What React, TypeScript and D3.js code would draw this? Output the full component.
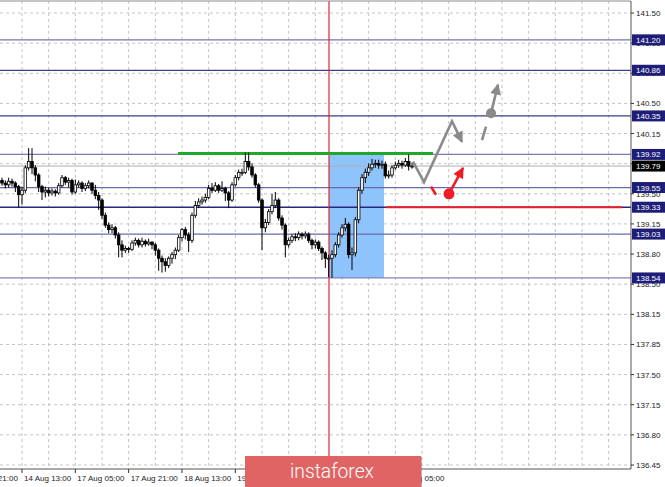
import React from "react";
import * as d3 from "d3";

// ---------- data ----------
const OPENS = [
  139.63, 139.60, 139.58, 139.62, 139.60, 139.56, 139.47, 139.52, 139.77, 139.84,
  139.77, 139.69, 139.56, 139.50, 139.52, 139.49, 139.51, 139.49, 139.57, 139.66,
  139.61, 139.63, 139.50, 139.58, 139.60, 139.54, 139.57, 139.60, 139.52, 139.46,
  139.41, 139.24, 139.13, 139.08, 139.10, 139.02, 138.91, 138.85, 138.87, 138.86,
  138.93, 138.96, 138.91, 138.95, 138.92, 138.94, 138.91, 138.85, 138.76, 138.72,
  138.68, 138.76, 138.80, 138.85, 138.99, 139.08, 139.02, 138.96, 139.24, 139.35,
  139.39, 139.41, 139.44, 139.54, 139.52, 139.57, 139.52, 139.54, 139.49, 139.41,
  139.58, 139.66, 139.72, 139.72, 139.84, 139.78, 139.69, 139.58, 139.41, 139.10,
  139.16, 139.28, 139.35, 139.41, 139.21, 139.13, 138.91, 138.96, 139.00, 138.99,
  139.03, 139.01, 139.03, 138.96, 138.91, 138.94, 138.87, 138.82, 138.76, 138.76,
  138.80, 138.91, 139.02, 139.10, 139.14, 138.80, 138.82, 139.19, 139.52, 139.66,
  139.72, 139.77, 139.81, 139.82, 139.80, 139.81, 139.68, 139.69, 139.77, 139.80,
  139.82, 139.80, 139.84, 139.79,
];
const CLOSES = [
  139.60, 139.58, 139.62, 139.60, 139.56, 139.47, 139.52, 139.77, 139.84, 139.77,
  139.69, 139.56, 139.50, 139.52, 139.49, 139.51, 139.49, 139.57, 139.66, 139.61,
  139.63, 139.50, 139.58, 139.60, 139.54, 139.57, 139.60, 139.52, 139.46, 139.41,
  139.24, 139.13, 139.08, 139.10, 139.02, 138.91, 138.85, 138.87, 138.86, 138.93,
  138.96, 138.91, 138.95, 138.92, 138.94, 138.91, 138.85, 138.76, 138.72, 138.68,
  138.76, 138.80, 138.85, 138.99, 139.08, 139.02, 138.96, 139.24, 139.35, 139.39,
  139.41, 139.44, 139.54, 139.52, 139.57, 139.52, 139.54, 139.49, 139.41, 139.58,
  139.66, 139.72, 139.72, 139.84, 139.78, 139.69, 139.58, 139.41, 139.10, 139.16,
  139.28, 139.35, 139.41, 139.21, 139.13, 138.91, 138.96, 139.00, 138.99, 139.03,
  139.01, 139.03, 138.96, 138.91, 138.94, 138.87, 138.82, 138.76, 138.76, 138.80,
  138.91, 139.02, 139.10, 139.14, 138.80, 138.82, 139.19, 139.52, 139.66, 139.72,
  139.77, 139.81, 139.82, 139.80, 139.81, 139.68, 139.69, 139.77, 139.80, 139.82,
  139.80, 139.84, 139.79, 139.79,
];
const HIGHS = [
  139.66, 139.63, 139.66, 139.65, 139.62, 139.58, 139.56, 139.80, 139.99, 139.99,
  139.80, 139.71, 139.58, 139.56, 139.55, 139.54, 139.53, 139.60, 139.69, 139.68,
  139.66, 139.65, 139.64, 139.63, 139.62, 139.60, 139.63, 139.61, 139.58, 139.50,
  139.43, 139.27, 139.16, 139.14, 139.12, 139.05, 138.96, 138.90, 138.89, 138.96,
  138.99, 138.98, 138.99, 138.97, 138.98, 138.95, 138.93, 138.87, 138.79, 138.76,
  138.78, 138.83, 138.88, 139.02, 139.10, 139.11, 139.05, 139.27, 139.40, 139.43,
  139.45, 139.48, 139.58, 139.60, 139.61, 139.59, 139.62, 139.56, 139.51, 139.61,
  139.69, 139.75, 139.76, 139.94, 139.94, 139.82, 139.71, 139.60, 139.43, 139.20,
  139.31, 139.48, 139.50, 139.43, 139.24, 139.15, 138.99, 139.03, 139.04, 139.06,
  139.05, 139.06, 139.05, 138.98, 138.97, 138.96, 138.89, 138.84, 138.80, 138.85,
  138.94, 139.05, 139.14, 139.21, 139.16, 138.88, 139.22, 139.55, 139.70, 139.76,
  139.82, 139.87, 139.86, 139.86, 139.85, 139.84, 139.74, 139.80, 139.84, 139.86,
  139.85, 139.88, 139.92, 139.83,
];
const LOWS = [
  139.57, 139.54, 139.55, 139.56, 139.50, 139.33, 139.36, 139.49, 139.74, 139.70,
  139.62, 139.50, 139.41, 139.44, 139.45, 139.46, 139.45, 139.47, 139.55, 139.58,
  139.55, 139.47, 139.48, 139.55, 139.50, 139.51, 139.54, 139.48, 139.42, 139.30,
  139.20, 139.10, 139.04, 139.04, 138.98, 138.77, 138.77, 138.82, 138.82, 138.84,
  138.90, 138.88, 138.88, 138.89, 138.90, 138.86, 138.79, 138.62, 138.60, 138.61,
  138.65, 138.70, 138.75, 138.83, 138.95, 138.97, 138.83, 138.93, 139.21, 139.32,
  139.36, 139.38, 139.42, 139.49, 139.50, 139.49, 139.50, 139.40, 139.32, 139.39,
  139.56, 139.63, 139.68, 139.70, 139.74, 139.66, 139.55, 139.38, 138.85, 139.05,
  139.13, 139.25, 139.32, 139.18, 139.08, 138.77, 138.88, 138.93, 138.95, 138.96,
  138.97, 138.98, 138.93, 138.86, 138.87, 138.84, 138.74, 138.65, 138.55, 138.54,
  138.77, 138.88, 138.99, 139.06, 138.76, 138.63, 138.78, 139.15, 139.48, 139.60,
  139.68, 139.74, 139.77, 139.76, 139.76, 139.65, 139.65, 139.66, 139.75, 139.77,
  139.76, 139.78, 139.74, 139.76,
];

const TIME_LABELS = [
  "13 Aug 21:00", "14 Aug 13:00", "17 Aug 05:00", "17 Aug 21:00", "18 Aug 13:00",
  "19 Aug 05:00", "19 Aug 21:00", "20 Aug 13:00", "21 Aug 05:00",
];
const TIME_LABEL_BARS = [-10, 6, 22, 38, 54, 70, 86, 102, 118];

const PRICE_TICK_LABELS = [
  "141.50", "141.15", "140.80", "140.50", "140.15", "139.80", "139.50", "139.15",
  "138.80", "138.50", "138.15", "137.85", "137.50", "137.15", "136.80", "136.45",
];
const PRICE_MIN = 136.45;
const PRICE_MAX = 141.5;

const LEVELS = [141.2, 140.86, 140.35, 139.92, 139.55, 139.33, 139.03, 138.54];
const LEVEL_LABELS = ["141.20", "140.86", "140.35", "139.92", "139.55", "139.33", "139.03", "138.54"];
const CURRENT_PRICE = 139.79;
const CURRENT_LABEL = "139.79";

// annotations in [bar, price]
const GREEN_LINE = { from: 52.8, to: 129.3, price: 139.92 };
const RED_LINE = { from: 115.2, to: 186, price: 139.33 };
const ZONE = { from: 98.1, to: 114.6, top: 139.92, bottom: 138.54 };
const SEPARATOR_BAR = 98.1;
const GRAY_PATH: [number, number][] = [[123.3, 139.84], [126.6, 139.61], [135, 140.29], [138, 140.06]];
const GRAY_DASH: [number, number][] = [[144, 140.08], [145.2, 140.23]];
const GRAY_DOT: [number, number] = [146.7, 140.38];
const GRAY_ARROW: [number, number][] = [[146.7, 140.38], [148.8, 140.7]];
const RED_DASH: [number, number][] = [[128.7, 139.56], [130.2, 139.47]];
const RED_DOT: [number, number] = [134.1, 139.48];
const RED_ARROW: [number, number][] = [[134.1, 139.48], [138.3, 139.77]];

// ---------- styles ----------
const LEVEL_COLORS = ["#7474b4", "#3e3e8e", "#3a3a88", "#7a7ab6", "#6868aa", "#26267f", "#6a6aac", "#8282ba"];
const FONT = "'Liberation Sans', Arial, sans-serif";

export default function App() {
  const W = 665;
  const H = 487;
  const plotRight = 631;
  const plotBottom = 469;
  const plotTop = 1;

  const x = d3.scaleLinear().domain([0, 189]).range([2, 632]);
  const y = d3.scaleLinear().domain([PRICE_MIN, PRICE_MAX]).range([465, 13]);

  const tickPrices = PRICE_TICK_LABELS.map(
    (_, k) => PRICE_MAX - (k * (PRICE_MAX - PRICE_MIN)) / (PRICE_TICK_LABELS.length - 1)
  );
  const gridBars = d3.range(-2, 190, 8);

  const line = d3
    .line<[number, number]>()
    .x((d) => x(d[0]))
    .y((d) => y(d[1]));

  const bw = 2.6;

  return (
    <svg
      width={W}
      height={H}
      style={{ position: "absolute", left: 0, top: 0, background: "#fff" }}
      fontFamily={FONT}
    >
      <defs>
        <marker id="ahGray" viewBox="0 0 10 10" refX="9" refY="5" markerWidth="12" markerHeight="11" markerUnits="userSpaceOnUse" orient="auto">
          <path d="M0,0 L10,5 L0,10 z" fill="#8a8a8a" />
        </marker>
        <marker id="ahRed" viewBox="0 0 10 10" refX="9" refY="5" markerWidth="12" markerHeight="11" markerUnits="userSpaceOnUse" orient="auto">
          <path d="M0,0 L10,5 L0,10 z" fill="#ee1c24" />
        </marker>
        <clipPath id="plotClip">
          <rect x={0} y={plotTop} width={plotRight} height={plotBottom - plotTop} />
        </clipPath>
      </defs>
      <rect x={0} y={0} width={W} height={H} fill="#fff" />

      {/* grid */}
      <g clipPath="url(#plotClip)">
        {tickPrices.map((p, k) => (
          <line key={"hg" + k} x1={0} x2={plotRight} y1={y(p)} y2={y(p)} stroke="#c4c4c4" strokeDasharray="3,3" strokeWidth={1} />
        ))}
        {gridBars.map((b) => (
          <line key={"vg" + b} x1={x(b)} x2={x(b)} y1={plotTop} y2={plotBottom} stroke="#c4c4c4" strokeDasharray="3,3" strokeWidth={1} />
        ))}

        {/* blue zone */}
        <rect x={x(ZONE.from)} y={y(ZONE.top)} width={x(ZONE.to) - x(ZONE.from)} height={y(ZONE.bottom) - y(ZONE.top)} fill="#8ec4fb" />

        {/* level lines */}
        {LEVELS.map((p, k) => (
          <line key={"lv" + k} x1={0} x2={plotRight} y1={y(p)} y2={y(p)} stroke={LEVEL_COLORS[k]} strokeWidth={1.3} />
        ))}
        {/* current price line */}
        <line x1={0} x2={plotRight} y1={y(CURRENT_PRICE)} y2={y(CURRENT_PRICE)} stroke="#b0b0b0" strokeWidth={1} />

        {/* separator */}
        <line x1={x(SEPARATOR_BAR)} x2={x(SEPARATOR_BAR)} y1={plotTop} y2={plotBottom} stroke="#e0262b" strokeWidth={1.2} />

        {/* green line */}
        <line x1={x(GREEN_LINE.from)} x2={x(GREEN_LINE.to)} y1={y(GREEN_LINE.price) - 1} y2={y(GREEN_LINE.price) - 1} stroke="#1fa82c" strokeWidth={3} />
        {/* red line */}
        <line x1={x(RED_LINE.from)} x2={x(RED_LINE.to)} y1={y(RED_LINE.price)} y2={y(RED_LINE.price)} stroke="#ee1c24" strokeWidth={2.2} />

        {/* candles */}
        {CLOSES.map((c, i) => {
          const o = OPENS[i];
          const h = HIGHS[i];
          const l = LOWS[i];
          const cx = x(i);
          const top = y(Math.max(o, c));
          const bot = y(Math.min(o, c));
          const bull = c >= o;
          return (
            <g key={"c" + i}>
              <line x1={cx} x2={cx} y1={y(h)} y2={y(l)} stroke="#000" strokeWidth={1} />
              <rect
                x={cx - bw / 2}
                y={top}
                width={bw}
                height={Math.max(1, bot - top)}
                fill={bull ? "#fff" : "#000"}
                stroke="#000"
                strokeWidth={0.8}
              />
            </g>
          );
        })}

        {/* forecast annotations */}
        <path d={line(GRAY_PATH) || ""} fill="none" stroke="#8a8a8a" strokeWidth={2.6} strokeLinejoin="miter" markerEnd="url(#ahGray)" />
        <path d={line(GRAY_DASH) || ""} fill="none" stroke="#8a8a8a" strokeWidth={2.6} />
        <path d={line(GRAY_ARROW) || ""} fill="none" stroke="#8a8a8a" strokeWidth={2.6} markerEnd="url(#ahGray)" />
        <circle cx={x(GRAY_DOT[0])} cy={y(GRAY_DOT[1])} r={5} fill="#8a8a8a" />
        <path d={line(RED_DASH) || ""} fill="none" stroke="#ee1c24" strokeWidth={2.6} />
        <path d={line(RED_ARROW) || ""} fill="none" stroke="#ee1c24" strokeWidth={2.6} markerEnd="url(#ahRed)" />
        <circle cx={x(RED_DOT[0])} cy={y(RED_DOT[1])} r={5.5} fill="#ee1c24" />
      </g>

      {/* frame */}
      <line x1={0} x2={plotRight} y1={plotTop} y2={plotTop} stroke="#8c8c8c" strokeWidth={1} />
      <line x1={plotRight} x2={plotRight} y1={plotTop} y2={plotBottom} stroke="#555" strokeWidth={1} />
      <line x1={0} x2={plotRight} y1={plotBottom} y2={plotBottom} stroke="#555" strokeWidth={1} />

      {/* right axis */}
      {tickPrices.map((p, k) => (
        <g key={"yt" + k}>
          <line x1={plotRight} x2={plotRight + 3} y1={y(p)} y2={y(p)} stroke="#333" />
          <text x={plotRight + 5} y={y(p) + 3} fontSize={8} fill="#222">
            {PRICE_TICK_LABELS[k]}
          </text>
        </g>
      ))}
      {LEVELS.map((p, k) => (
        <g key={"lb" + k}>
          <rect x={plotRight + 1} y={y(p) - 5.5} width={33} height={11} fill="#1e1e78" />
          <text x={plotRight + 5} y={y(p) + 3} fontSize={8} fill="#fff">
            {LEVEL_LABELS[k]}
          </text>
        </g>
      ))}
      <rect x={plotRight + 1} y={y(CURRENT_PRICE) - 5.5} width={33} height={11} fill="#000" />
      <text x={plotRight + 5} y={y(CURRENT_PRICE) + 3} fontSize={8} fill="#fff">
        {CURRENT_LABEL}
      </text>

      {/* bottom axis */}
      {TIME_LABELS.map((t, k) => (
        <g key={"xt" + k}>
          <line x1={x(TIME_LABEL_BARS[k])} x2={x(TIME_LABEL_BARS[k])} y1={plotBottom} y2={plotBottom + 4} stroke="#333" />
          <text x={x(TIME_LABEL_BARS[k]) + 2} y={plotBottom + 12} fontSize={8} fill="#222">
            {t}
          </text>
        </g>
      ))}

      {/* watermark */}
      <rect x={246} y={457} width={176} height={31} fill="#b84a4a" opacity={0.5} />
      <rect x={245} y={456} width={176} height={31} fill="#e06464" />
      <text x={290} y={478} fontSize={21} fill="#fff" fontFamily="Roboto, 'Open Sans', sans-serif" fontWeight={300} textLength={84} lengthAdjust="spacingAndGlyphs">
        instaforex
      </text>
    </svg>
  );
}
